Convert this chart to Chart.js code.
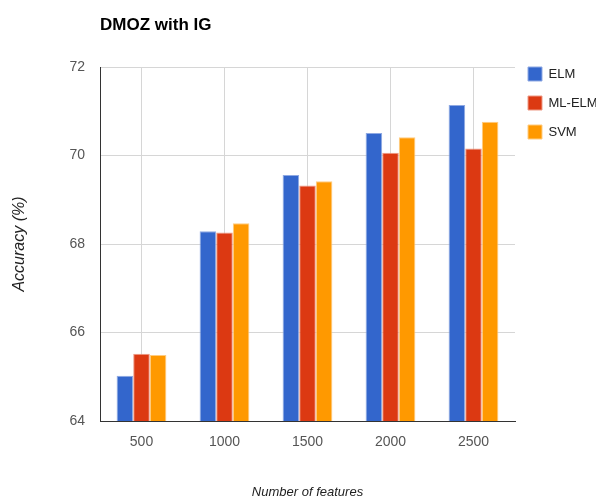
<!DOCTYPE html>
<html>
<head>
<meta charset="utf-8">
<title>DMOZ with IG</title>
<script src="https://cdn.jsdelivr.net/npm/chart.js@4/dist/chart.umd.min.js"></script>
<style>
  html, body { margin: 0; padding: 0; background: #ffffff; }
  #wrap { width: 598px; height: 502px; }
</style>
</head>
<body>
<div id="wrap"><canvas id="chart" width="598" height="502"></canvas></div>
<script>
// Feature counts on the x axis
const categories = ['500', '1000', '1500', '2000', '2500'];

// Accuracy (%) per classifier
const elmValues   = [65.02, 68.29, 69.56, 70.51, 71.14];
const mlElmValues = [65.52, 68.26, 69.32, 70.06, 70.16];
const svmValues   = [65.49, 68.47, 69.42, 70.41, 70.76];

// Y axis range and step
const yTicks = [64, 66, 68, 70, 72];

const chartTitle = 'DMOZ with IG';
const FONT = '"Liberation Sans", Arial, sans-serif';

// Title drawn left-aligned over the plot area
const titlePlugin = {
  id: 'leftTitle',
  afterDraw(chart) {
    const ctx = chart.ctx;
    ctx.save();
    ctx.font = 'bold 17px ' + FONT;
    ctx.fillStyle = '#000000';
    ctx.textAlign = 'left';
    ctx.textBaseline = 'middle';
    ctx.fillText(chartTitle, chart.chartArea.left, 25);
    ctx.restore();
  }
};

// Lift the legend so the first entry lines up with the top of the plot
const legendShift = {
  id: 'legendShift',
  afterLayout(chart) {
    const lg = chart.legend;
    if (!lg) return;
    lg.top -= 15; lg.bottom -= 15;
    lg.left -= 2; lg.right -= 2;
  }
};

new Chart(document.getElementById('chart'), {
  type: 'bar',
  data: {
    labels: categories,
    datasets: [
      { label: 'ELM', data: elmValues, backgroundColor: '#3366cc', borderColor: '#8fa9e3', borderWidth: 1 },
      { label: 'ML-ELM', data: mlElmValues, backgroundColor: '#dc3912', borderColor: '#ee9a85', borderWidth: 1 },
      { label: 'SVM', data: svmValues, backgroundColor: '#ff9900', borderColor: '#ffcc80', borderWidth: 1 }
    ]
  },
  options: {
    responsive: false,
    animation: false,
    devicePixelRatio: 1,
    layout: { padding: { top: 67, left: 0, right: 0, bottom: 0 } },
    datasets: { bar: { categoryPercentage: 0.6, barPercentage: 1.0 } },
    scales: {
      x: {
        grid: { display: true, offset: false, drawTicks: false, color: '#d6d6d6', lineWidth: 1 },
        border: { display: true, color: '#333333', width: 1 },
        ticks: { color: '#555555', font: { family: FONT, size: 14 }, padding: 13 },
        title: {
          display: true, text: 'Number of features', color: '#222222',
          font: { family: FONT, size: 13, style: 'italic' },
          padding: { top: 0, bottom: 2 }
        },
        afterFit(scale) { scale.height = 81; }
      },
      y: {
        min: yTicks[0],
        max: yTicks[yTicks.length - 1],
        afterBuildTicks(scale) { scale.ticks = yTicks.map(v => ({ value: v })); },
        grid: { drawTicks: false, color: '#d6d6d6', lineWidth: 1 },
        border: { display: true, color: '#333333', width: 1 },
        ticks: { color: '#555555', font: { family: FONT, size: 14 }, padding: 15 },
        title: {
          display: true, text: 'Accuracy (%)', color: '#222222',
          font: { family: FONT, size: 16, style: 'italic' },
          padding: { top: 10, bottom: 0 }
        },
        afterFit(scale) { scale.width = 100; }
      }
    },
    plugins: {
      legend: {
        position: 'right',
        align: 'start',
        maxWidth: 83,
        labels: {
          boxWidth: 14, boxHeight: 14, padding: 15,
          color: '#222222',
          font: { family: FONT, size: 13 }
        }
      },
      title: { display: false },
      tooltip: { enabled: false }
    }
  },
  plugins: [titlePlugin, legendShift]
});
</script>
</body>
</html>
